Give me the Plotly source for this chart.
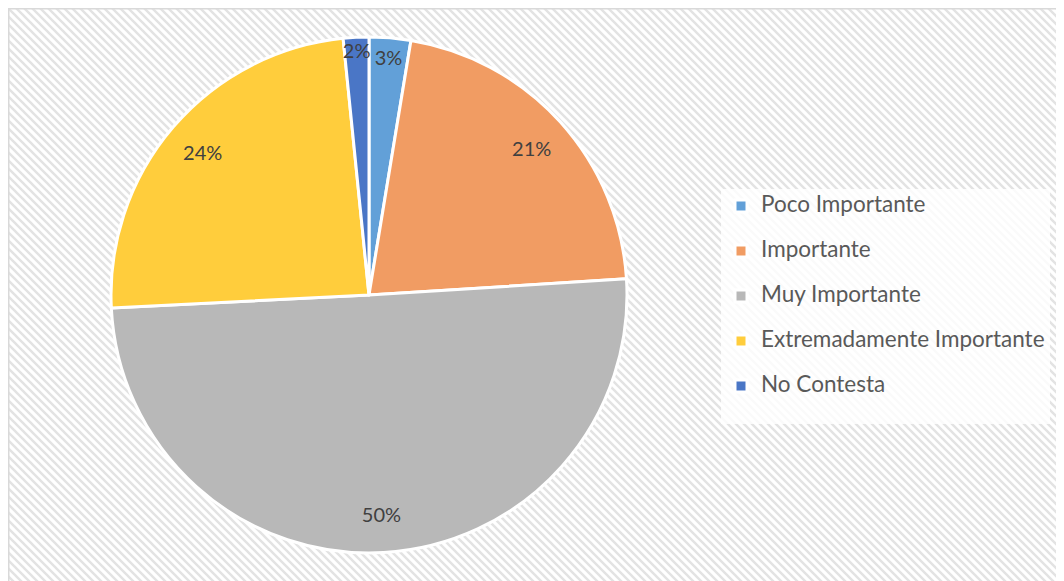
import base64
import plotly.graph_objects as go

# ---- data ----
categories = ["Poco Importante", "Importante", "Muy Importante",
              "Extremadamente Importante", "No Contesta"]
values = [2.6, 21.4, 50.2, 24.2, 1.6]
colors = ["#62A0D8", "#F19C63", "#B8B8B8", "#FFCD3C", "#4A76C6"]

W, H = 1064, 581
OFF = 8  # page body offset of the figure

# ---- hatched background (decorative) ----
svg = f'''<svg xmlns="http://www.w3.org/2000/svg" width="{W}" height="{H}" viewBox="0 0 {W} {H}">
<defs><pattern id="p" width="8" height="8" patternUnits="userSpaceOnUse">
<rect width="8" height="8" fill="#ffffff"/>
<path d="M-2,-2 L10,10 M-2,6 L2,10 M6,-2 L10,2" stroke="#e3e3e3" stroke-width="2.4"/>
</pattern></defs>
<rect x="0" y="0" width="{W}" height="{H}" fill="url(#p)"/>
<path d="M0.75,{H} L0.75,0.75 L{W},0.75" fill="none" stroke="#d9d9d9" stroke-width="1.5"/>
</svg>'''
bg_src = "data:image/svg+xml;base64," + base64.b64encode(svg.encode()).decode()

legend_labels = [f"<span style='font-size:22.5px'>{c}</span><br>&nbsp;" for c in categories]

dom = dict(x=[(111 - OFF) / W, (627 - OFF) / W],
           y=[1 - (553 - OFF) / H, 1 - (37 - OFF) / H])

fig = go.Figure()
fig.add_trace(go.Pie(
    labels=legend_labels,
    values=values,
    sort=False,
    direction="clockwise",
    rotation=0,
    marker=dict(colors=colors, line=dict(color="white", width=3)),
    textinfo="none",
    hoverinfo="label+percent",
    domain=dom,
))
# transparent ring carrying the percentage labels near the rim
fig.add_trace(go.Pie(
    labels=legend_labels,
    values=values,
    sort=False,
    direction="clockwise",
    rotation=0,
    hole=0.7,
    showlegend=False,
    marker=dict(colors=["rgba(0,0,0,0)"] * len(values), line=dict(width=0)),
    texttemplate="%{percent:.0%}",
    textposition="inside",
    insidetextorientation="horizontal",
    textfont=dict(family="Lato", size=20, color="#404040"),
    hoverinfo="skip",
    domain=dom,
))

fig.update_layout(
    width=W, height=H,
    margin=dict(l=0, r=0, t=0, b=0),
    paper_bgcolor="white",
    font=dict(family="Lato", color="#595959"),
    uniformtext=dict(minsize=20, mode="show"),
    legend=dict(
        x=(721 - OFF) / W, xanchor="left",
        y=1 - (189 - OFF) / H, yanchor="top",
        bgcolor="rgba(255,255,255,0.8)",
        font=dict(family="Lato", size=16.15, color="#595959"),
        valign="top",
    ),
    images=[dict(source=bg_src, xref="paper", yref="paper", x=0, y=1,
                 sizex=1, sizey=1, sizing="stretch", xanchor="left",
                 yanchor="top", layer="below")],
)

fig.write_html("out.html")
